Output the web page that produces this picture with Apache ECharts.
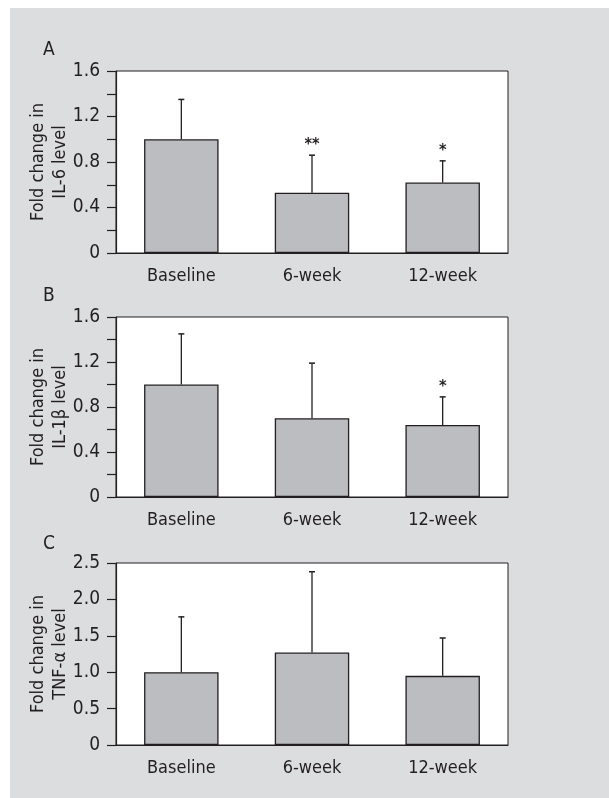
<!DOCTYPE html>
<html>
<head>
<meta charset="utf-8">
<script src="https://cdn.jsdelivr.net/npm/echarts@6/dist/echarts.min.js"></script>
<style>
	html, body { margin: 0; padding: 0; background: #fff; }
	#chart { width: 609px; height: 798px; }
</style>
</head>
<body>
<div id="chart"></div>
<script>
// Categories shared by all three panels
const categories = [ 'Baseline', '6-week', '12-week' ];

// Panel A: IL-6
const meansA = [ 1.0, 0.53, 0.62 ];
const upperA = [ 1.35, 0.86, 0.81 ];
const starsA = [ '', '**', '*' ];
const yLabelsA = [ '0', '0.4', '0.8', '1.2', '1.6' ];

// Panel B: IL-1β
const meansB = [ 1.0, 0.7, 0.64 ];
const upperB = [ 1.45, 1.19, 0.89 ];
const starsB = [ '', '', '*' ];
const yLabelsB = [ '0', '0.4', '0.8', '1.2', '1.6' ];

// Panel C: TNF-α
const meansC = [ 1.0, 1.27, 0.95 ];
const upperC = [ 1.76, 2.38, 1.47 ];
const starsC = [ '', '', '' ];
const yLabelsC = [ '0', '0.5', '1.0', '1.5', '2.0', '2.5' ];

const panels = [
	{ letter: 'A', name: 'Fold change in\nIL-6 level', means: meansA, upper: upperA, stars: starsA, labels: yLabelsA, max: 1.6, step: 0.2, labelEvery: 2, top: 71, height: 182, letterTop: 41 },
	{ letter: 'B', name: 'Fold change in\nIL-1β level', means: meansB, upper: upperB, stars: starsB, labels: yLabelsB, max: 1.6, step: 0.2, labelEvery: 2, top: 317, height: 180, letterTop: 287 },
	{ letter: 'C', name: 'Fold change in\nTNF-α level', means: meansC, upper: upperC, stars: starsC, labels: yLabelsC, max: 2.5, step: 0.5, labelEvery: 1, top: 563, height: 182, letterTop: 535 }
];

const FONT = '"Liberation Sans Narrow", "DejaVu Sans Condensed", Arial, sans-serif';
const INK = '#231f20';

const chart = echarts.init( document.getElementById( 'chart' ), null, { renderer: 'canvas' } );

const renderError = ( stars ) => ( params, api ) => {
	const i = api.value( 0 );
	const p0 = api.coord( [ i, api.value( 1 ) ] );
	const p1 = api.coord( [ i, api.value( 2 ) ] );
	return {
		type: 'group',
		children: [
			{ type: 'line', shape: { x1: p0[ 0 ], y1: p0[ 1 ], x2: p1[ 0 ], y2: p1[ 1 ] }, style: { stroke: INK, lineWidth: 1.3 } },
			{ type: 'line', shape: { x1: p1[ 0 ] - 3, y1: p1[ 1 ], x2: p1[ 0 ] + 3, y2: p1[ 1 ] }, style: { stroke: INK, lineWidth: 1.5 } },
			{ type: 'text', x: p1[ 0 ], y: p1[ 1 ] - 10, style: { text: stars[ i ], fill: INK, font: 'bold 16px ' + FONT, align: 'center', verticalAlign: 'middle' } }
		]
	};
};

const option = {
	animation: false,
	graphic: [
		{ type: 'rect', left: 10, top: 8, shape: { width: 599, height: 790 }, style: { fill: '#dcdddf' }, z: -10 }
	],
	title: panels.map( ( p ) => ( {
		text: p.letter,
		left: 43,
		top: p.letterTop,
		padding: 0,
		textStyle: { fontFamily: FONT, fontSize: 19, fontWeight: 'normal', color: INK }
	} ) ),
	grid: panels.map( ( p ) => ( {
		left: 116,
		width: 392,
		top: p.top,
		height: p.height,
		show: true,
		backgroundColor: '#fff',
		borderColor: INK,
		borderWidth: 1
	} ) ),
	xAxis: panels.map( ( p, k ) => ( {
		type: 'category',
		gridIndex: k,
		data: categories,
		boundaryGap: true,
		axisLine: { lineStyle: { color: INK, width: 1.2 } },
		axisTick: { length: 9, lineStyle: { color: INK, width: 1.2 } },
		axisLabel: { margin: 14, fontFamily: FONT, fontSize: 18, color: INK }
	} ) ),
	yAxis: panels.map( ( p, k ) => ( {
		type: 'value',
		gridIndex: k,
		min: 0,
		max: p.max,
		interval: p.step,
		name: p.name,
		nameLocation: 'middle',
		nameRotate: 90,
		nameGap: 45,
		nameMoveOverlap: false,
		nameTextStyle: { fontFamily: FONT, fontSize: 18, color: INK, lineHeight: 22 },
		splitLine: { show: false },
		axisLine: { show: true, lineStyle: { color: INK, width: 1.2 } },
		axisTick: { show: true, length: 9, lineStyle: { color: INK, width: 1.2 } },
		axisLabel: {
			margin: 16,
			fontFamily: FONT,
			fontSize: 19,
			color: INK,
			formatter: ( v ) => {
				const idx = Math.round( v / p.step );
				return idx % p.labelEvery === 0 ? p.labels[ idx / p.labelEvery ] : '';
			}
		}
	} ) ),
	series: panels.flatMap( ( p, k ) => [
		{
			type: 'bar',
			xAxisIndex: k,
			yAxisIndex: k,
			data: p.means,
			barWidth: '57%',
			itemStyle: { color: '#bcbdc0', borderColor: INK, borderWidth: 1.3 }
		},
		{
			type: 'custom',
			xAxisIndex: k,
			yAxisIndex: k,
			data: p.means.map( ( m, i ) => [ i, m, p.upper[ i ] ] ),
			renderItem: renderError( p.stars ),
			z: 5
		}
	] )
};

chart.setOption( option );
</script>
</body>
</html>
